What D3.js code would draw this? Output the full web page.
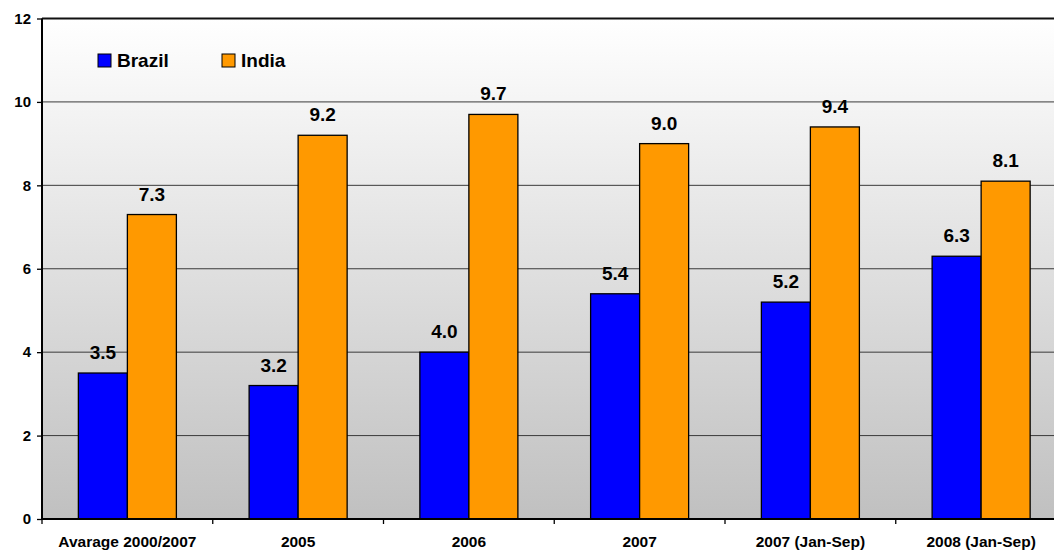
<!DOCTYPE html>
<html>
<head>
<meta charset="utf-8">
<script src="https://cdn.jsdelivr.net/npm/d3@7"></script>
<style>
  html, body { margin: 0; padding: 0; background: #ffffff; }
  svg { display: block; font-family: "Liberation Sans", Arial, sans-serif; }
</style>
</head>
<body>
<svg id="chart" width="1054" height="550"></svg>
<script>
// Categories and series
const categories = ["Avarage 2000/2007", "2005", "2006", "2007", "2007 (Jan-Sep)", "2008 (Jan-Sep)"];
const seriesNames = ["Brazil", "India"];
const brazil = [3.5, 3.2, 4.0, 5.4, 5.2, 6.3];
const india = [7.3, 9.2, 9.7, 9.0, 9.4, 8.1];
const yTicks = [0, 2, 4, 6, 8, 10, 12];
const colors = { Brazil: "#0000ff", India: "#ff9900" };

const rows = categories.map((c, i) => ({ category: c, Brazil: brazil[i], India: india[i] }));

const svg = d3.select("#chart");
const plotLeft = 42, plotTop = 18.5, plotBottom = 519, bandStep = 170.75;
const plotRight = plotLeft + bandStep * categories.length;

const x0 = d3.scaleBand().domain(categories).range([plotLeft, plotRight]).paddingInner(0).paddingOuter(0);
const x1 = d3.scaleBand().domain(seriesNames).range([0, x0.bandwidth()]).paddingInner(0).paddingOuter(0.742);
const y = d3.scaleLinear().domain([0, 12]).range([plotBottom, plotTop]);

// Plot background gradient
const defs = svg.append("defs");
const grad = defs.append("linearGradient").attr("id", "bg").attr("x1", 0).attr("y1", 0).attr("x2", 0).attr("y2", 1);
grad.append("stop").attr("offset", "0%").attr("stop-color", "#ffffff");
grad.append("stop").attr("offset", "100%").attr("stop-color", "#c0c0c0");

svg.append("rect")
  .attr("x", plotLeft).attr("y", plotTop)
  .attr("width", plotRight - plotLeft).attr("height", plotBottom - plotTop)
  .attr("fill", "url(#bg)");

// Horizontal gridlines
svg.append("g")
  .selectAll("line")
  .data(yTicks.filter(t => t > 0 && t < 12))
  .join("line")
  .attr("x1", plotLeft).attr("x2", plotRight)
  .attr("y1", d => y(d)).attr("y2", d => y(d))
  .attr("stroke", "#3a3a3a").attr("stroke-width", 1);

// Top border of plot
svg.append("line")
  .attr("x1", plotLeft).attr("x2", plotRight)
  .attr("y1", y(12)).attr("y2", y(12))
  .attr("stroke", "#111").attr("stroke-width", 2);

// Bars
const groups = svg.append("g")
  .selectAll("g")
  .data(rows)
  .join("g")
  .attr("transform", d => `translate(${x0(d.category)},0)`);

groups.selectAll("rect")
  .data(d => seriesNames.map(s => ({ key: s, value: d[s] })))
  .join("rect")
  .attr("x", d => x1(d.key))
  .attr("y", d => y(d.value))
  .attr("width", x1.bandwidth())
  .attr("height", d => y(0) - y(d.value))
  .attr("fill", d => colors[d.key])
  .attr("stroke", "#000").attr("stroke-width", 1.3);

// Value labels
groups.selectAll("text")
  .data(d => seriesNames.map(s => ({ key: s, value: d[s] })))
  .join("text")
  .attr("x", d => x1(d.key) + x1.bandwidth() / 2)
  .attr("y", d => y(d.value) - 14)
  .attr("text-anchor", "middle")
  .attr("font-size", 19).attr("font-weight", "bold")
  .attr("fill", "#000")
  .text(d => d.value.toFixed(1));

// Y axis
const yAxis = d3.axisLeft(y).tickValues(yTicks).tickSize(5).tickPadding(6).tickFormat(d3.format("d"));
const gy = svg.append("g").attr("transform", `translate(${plotLeft},0)`).call(yAxis);
gy.select(".domain").attr("stroke", "#000").attr("stroke-width", 2).attr("d", `M0,${plotTop}V${plotBottom}`);
gy.selectAll(".tick line").attr("stroke", "#000").attr("stroke-width", 1.3);
gy.selectAll(".tick text").attr("font-size", 15).attr("font-weight", "bold").attr("fill", "#000")
  .attr("font-family", "'Liberation Sans', Arial, sans-serif");

// X axis: ticks sit on band boundaries, labels in band centres
const gx = svg.append("g").attr("transform", `translate(0,${plotBottom})`);
gx.append("line").attr("x1", plotLeft).attr("x2", plotRight).attr("y1", 0).attr("y2", 0)
  .attr("stroke", "#000").attr("stroke-width", 2);
const boundaries = categories.map(c => x0(c)).concat([plotRight]);
gx.selectAll("line.tk").data(boundaries).join("line").attr("class", "tk")
  .attr("x1", d => d).attr("x2", d => d).attr("y1", 0).attr("y2", 5)
  .attr("stroke", "#000").attr("stroke-width", 1.3);
gx.selectAll("text").data(categories).join("text")
  .attr("x", d => x0(d) + x0.bandwidth() / 2)
  .attr("y", 27.5)
  .attr("text-anchor", "middle")
  .attr("font-size", 15.5).attr("font-weight", "bold").attr("fill", "#000")
  .text(d => d);

// Legend
const legend = svg.append("g").attr("transform", "translate(98,54)");
const legendX = [0, 124];
seriesNames.forEach((s, i) => {
  const g = legend.append("g").attr("transform", `translate(${legendX[i]},0)`);
  g.append("rect").attr("width", 13).attr("height", 13)
    .attr("fill", colors[s]).attr("stroke", "#000").attr("stroke-width", 1);
  g.append("text").attr("x", 19).attr("y", 13.3)
    .attr("font-size", 19).attr("font-weight", "bold").attr("fill", "#000")
    .text(s);
});
</script>
</body>
</html>
